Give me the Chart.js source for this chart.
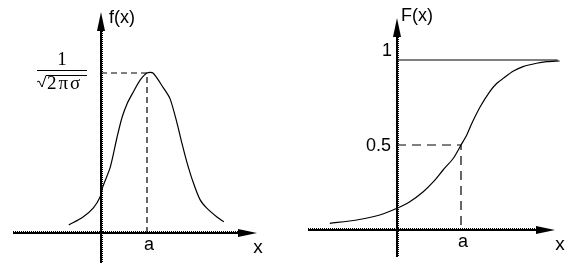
<!DOCTYPE html>
<html>
<head>
<meta charset="utf-8">
<script src="https://cdn.jsdelivr.net/npm/chart.js@4.4.1/dist/chart.umd.min.js"></script>
<style>
  html, body { margin: 0; padding: 0; background: #fff; }
  #wrap { position: relative; width: 581px; height: 280px; }
  canvas { position: absolute; top: 0; }
</style>
</head>
<body>
<div id="wrap">
  <canvas id="pdfChart" width="290" height="280" style="left:0"></canvas>
  <canvas id="cdfChart" width="291" height="280" style="left:290px"></canvas>
</div>
<script>
// x measured in units of a (a = 1); f(x) relative to its peak, F(x) as is
const pdfX = [-0.70, -0.39, -0.17, -0.02, 0.04, 0.20, 0.35, 0.46, 0.57, 0.70, 0.85, 1.00, 1.13, 1.35, 1.50, 1.65, 1.76, 1.87, 2.00, 2.15, 2.30, 2.52, 2.67];
const pdfY = [0.05, 0.10, 0.155, 0.225, 0.29, 0.41, 0.60, 0.725, 0.81, 0.88, 0.955, 1.00, 1.00, 0.91, 0.84, 0.69, 0.56, 0.44, 0.32, 0.21, 0.155, 0.10, 0.07];
const pdfGuideX = [0, 1, 1];
const pdfGuideY = [1, 1, 0];

const cdfX = [-1.05, -0.63, -0.27, 0, 0.20, 0.41, 0.57, 0.72, 0.88, 1.00, 1.09, 1.17, 1.30, 1.45, 1.56, 1.66, 1.82, 1.97, 2.18, 2.34, 2.54];
const cdfY = [0.039, 0.059, 0.088, 0.128, 0.166, 0.225, 0.284, 0.353, 0.422, 0.50, 0.559, 0.628, 0.725, 0.814, 0.863, 0.892, 0.935, 0.961, 0.981, 0.99, 0.994];
const cdfGuideX = [0, 1, 1];
const cdfGuideY = [0.5, 0.5, 0];
const cdfLimitX = [0, 2.51];
const cdfLimitY = [1, 1];

// tick labels
const pdfTickX = [1], pdfTickXLabels = ['a'];
const cdfTickX = [1], cdfTickXLabels = ['a'];
const cdfTickY = [0.5, 1], cdfTickYLabels = ['0.5', '1'];

const sans = '"Liberation Sans", Arial, sans-serif';
const serif = '"Liberation Serif", "Times New Roman", serif';

const pts = (xs, ys) => xs.map((v, i) => ({ x: v, y: ys[i] }));

// axes with arrow heads, drawn through the scales
const arrowAxes = {
  id: 'arrowAxes',
  beforeDatasetsDraw(chart) {
    const { ctx, chartArea: ca, scales: { x, y } } = chart;
    const x0 = Math.round(x.getPixelForValue(0));
    const y0 = Math.round(y.getPixelForValue(0));
    const head = 19;
    ctx.save();
    ctx.fillStyle = '#000';
    // vertical axis
    ctx.fillRect(x0 - 1, ca.top + head - 2, 2, ca.bottom - ca.top - head + 2);
    for (let py = ca.top + head; py < ca.bottom; py += 2) ctx.fillRect(x0 + 1, py, 1, 1);
    ctx.beginPath();
    ctx.moveTo(x0, ca.top);
    ctx.lineTo(x0 - 4, ca.top + head);
    ctx.lineTo(x0 + 4, ca.top + head);
    ctx.closePath();
    ctx.fill();
    // horizontal axis
    ctx.fillRect(ca.left, y0 - 1, ca.right - ca.left - head + 2, 2);
    for (let px = ca.left; px < ca.right - head; px += 2) ctx.fillRect(px, y0 - 2, 1, 1);
    ctx.beginPath();
    ctx.moveTo(ca.right, y0);
    ctx.lineTo(ca.right - head, y0 - 4);
    ctx.lineTo(ca.right - head, y0 + 4);
    ctx.closePath();
    ctx.fill();
    ctx.restore();
  },
  afterDatasetsDraw(chart, args, o) {
    const { ctx, chartArea: ca, scales: { x, y } } = chart;
    const x0 = Math.round(x.getPixelForValue(0));
    const y0 = Math.round(y.getPixelForValue(0));
    ctx.save();
    ctx.fillStyle = '#000';
    ctx.strokeStyle = '#000';
    ctx.font = '18px ' + sans;
    // axis titles
    ctx.textAlign = 'left';
    ctx.textBaseline = 'middle';
    ctx.fillText(o.titleY, x0 + o.titleYdx, ca.top + o.titleYdy);
    ctx.textAlign = 'center';
    ctx.textBaseline = 'top';
    ctx.font = '19px ' + sans;
    ctx.fillText('x', ca.right + o.titleXdx, y0 + 5);
    // x ticks
    ctx.font = '18px ' + sans;
    o.ticksX.forEach((v, i) => {
      ctx.fillText(o.ticksXLabels[i], x.getPixelForValue(v) + 2, y0 + 3);
    });
    // y ticks
    ctx.textAlign = 'right';
    (o.ticksY || []).forEach((v, i) => {
      const py = y.getPixelForValue(v);
      if (v === 1) {
        ctx.textBaseline = 'bottom';
        ctx.fillText(o.ticksYLabels[i], x0 - 5, py);
      } else {
        ctx.textBaseline = 'middle';
        ctx.fillText(o.ticksYLabels[i], x0 - 6, py + 1);
      }
    });
    // peak value 1 / sqrt(2 pi sigma)
    if (o.peakLabel) {
      const py = Math.round(y.getPixelForValue(1));
      const cx = x0 - 39;
      ctx.font = '19px ' + serif;
      ctx.textAlign = 'center';
      ctx.textBaseline = 'alphabetic';
      ctx.fillText('1', cx, py - 8);
      ctx.lineWidth = 1;
      ctx.beginPath();
      ctx.moveTo(cx - 25, py - 2.5);
      ctx.lineTo(cx + 25, py - 2.5);
      ctx.stroke();
      const sx = cx - 25;
      ctx.beginPath();
      ctx.moveTo(sx, py + 9);
      ctx.lineTo(sx + 2, py + 8);
      ctx.lineTo(sx + 5, py + 14);
      ctx.lineTo(sx + 9, py + 2.5);
      ctx.lineTo(cx + 25, py + 2.5);
      ctx.stroke();
      ctx.textAlign = 'left';
      let tx = sx + 10;
      ['2', 'π', 'σ'].forEach(ch => {
        ctx.fillText(ch, tx, py + 16);
        tx += ctx.measureText(ch).width + 2;
      });
    }
    ctx.restore();
  }
};

function lineSet(data, dash) {
  return {
    data: data,
    borderColor: '#000',
    borderWidth: 1.2,
    borderDash: dash || [],
    pointRadius: 0,
    tension: dash ? 0 : 0.25,
    fill: false,
    clip: false
  };
}

function makeOptions(xr, yr, pad, plug) {
  return {
    responsive: false,
    animation: false,
    layout: { padding: pad },
    plugins: { legend: { display: false }, tooltip: { enabled: false }, arrowAxes: plug },
    scales: {
      x: { type: 'linear', min: xr[0], max: xr[1], display: false },
      y: { type: 'linear', min: yr[0], max: yr[1], display: false }
    }
  };
}

new Chart(document.getElementById('pdfChart'), {
  type: 'line',
  data: {
    datasets: [
      lineSet(pts(pdfX, pdfY)),
      lineSet(pts(pdfGuideX, pdfGuideY), [6, 4])
    ]
  },
  options: makeOptions([-88 / 46, 156 / 46], [-30 / 160, 221 / 160],
    { left: 13, right: 33, top: 12, bottom: 17 },
    { titleY: 'f(x)', titleYdx: 8, titleYdy: 6, titleXdx: 1,
      ticksX: pdfTickX, ticksXLabels: pdfTickXLabels, peakLabel: true }),
  plugins: [arrowAxes]
});

new Chart(document.getElementById('cdfChart'), {
  type: 'line',
  data: {
    datasets: [
      lineSet(pts(cdfX, cdfY)),
      lineSet(pts(cdfGuideX, cdfGuideY), [9, 6]),
      lineSet(pts(cdfLimitX, cdfLimitY))
    ]
  },
  options: makeOptions([-89 / 64, 158 / 64], [-27 / 170, 212 / 170],
    { left: 18, right: 26, top: 18, bottom: 23 },
    { titleY: 'F(x)', titleYdx: 4, titleYdy: -2, titleXdx: 5,
      ticksX: cdfTickX, ticksXLabels: cdfTickXLabels,
      ticksY: cdfTickY, ticksYLabels: cdfTickYLabels }),
  plugins: [arrowAxes]
});
</script>
</body>
</html>
